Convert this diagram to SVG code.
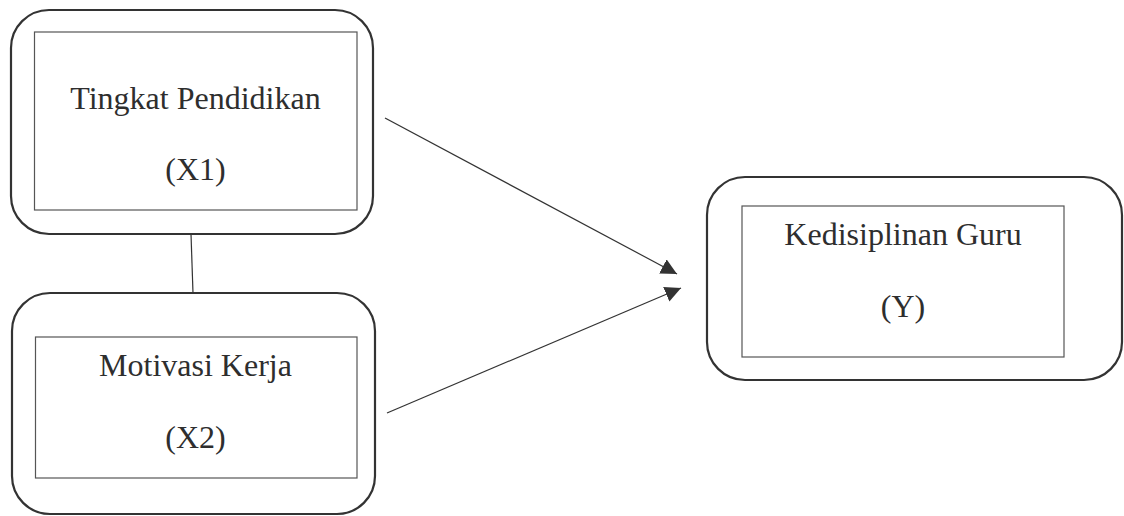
<svg xmlns="http://www.w3.org/2000/svg" width="1124" height="516" viewBox="0 0 1124 516">
<style>
.outer{fill:none;stroke:#333;stroke-width:2.2}
.inner{fill:none;stroke:#555;stroke-width:1.2}
.lbl{font-family:"Liberation Serif","Times New Roman",serif;font-size:32px;fill:#2e2e2e;text-anchor:middle}
.conn{fill:none;stroke:#333;stroke-width:1.2}
</style>
<defs>
<marker id="arr" markerUnits="userSpaceOnUse" markerWidth="18" markerHeight="18" refX="16" refY="8" orient="auto">
<path d="M0,0 L16,8 L0,16 Z" fill="#333"/>
</marker>
</defs>
<rect width="1124" height="516" fill="#fff"/>
<g id="node-x1">
<rect class="outer" x="11" y="10" width="362" height="224" rx="38" ry="38"/>
<rect class="inner" x="34.5" y="32" width="322.5" height="178"/>
<text class="lbl" x="195.5" y="109">Tingkat Pendidikan</text>
<text class="lbl" x="195.5" y="180">(X1)</text>
</g>
<g id="node-x2">
<rect class="outer" x="12" y="293" width="363" height="221" rx="38" ry="38"/>
<rect class="inner" x="35.5" y="337" width="321.5" height="141"/>
<text class="lbl" x="195.5" y="376">Motivasi Kerja</text>
<text class="lbl" x="195.5" y="448">(X2)</text>
</g>
<g id="node-y">
<rect class="outer" x="707" y="177" width="415" height="203" rx="38" ry="38"/>
<rect class="inner" x="742" y="206" width="322" height="151"/>
<text class="lbl" x="903" y="245">Kedisiplinan Guru</text>
<text class="lbl" x="903" y="317">(Y)</text>
</g>
<g id="connectors">
<line class="conn" x1="385" y1="118" x2="677" y2="274" marker-end="url(#arr)"/>
<line class="conn" x1="387" y1="413" x2="681" y2="288" marker-end="url(#arr)"/>
<line class="conn" x1="191" y1="234" x2="193" y2="293"/>
</g>
</svg>
